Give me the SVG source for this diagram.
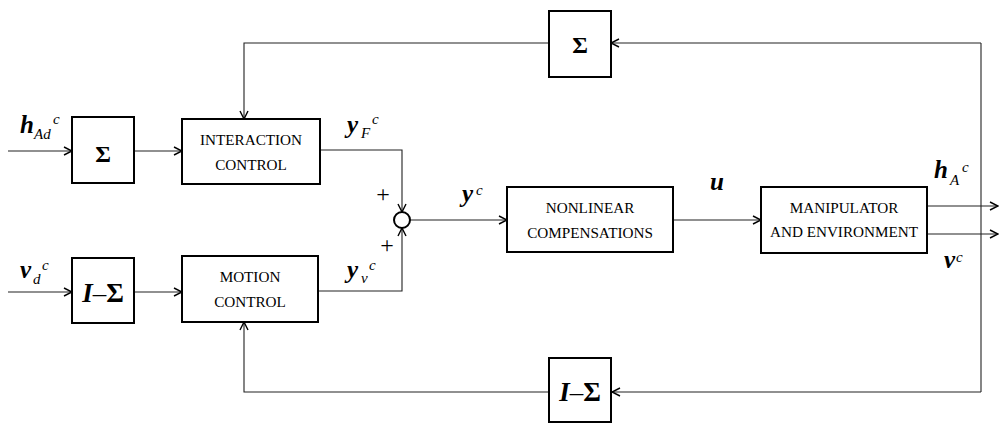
<svg xmlns="http://www.w3.org/2000/svg" width="999" height="426" viewBox="0 0 999 426">
<defs>
<marker id="ah" viewBox="0 0 10 10" refX="9" refY="5" markerWidth="10" markerHeight="10" markerUnits="userSpaceOnUse" orient="auto">
<path d="M1,1 L9,5 L1,9" fill="none" stroke="#000" stroke-width="1.4"/>
</marker>
</defs>
<style>
.box{fill:#fff;stroke:#000;stroke-width:2}
.ln{fill:none;stroke:#222;stroke-width:1.1}
.lbl{font-family:"Liberation Serif",serif;font-size:15.2px;fill:#000;text-anchor:middle}
.m{font-family:"Liberation Serif",serif;font-weight:bold;font-style:italic;fill:#000}
.s{font-family:"Liberation Serif",serif;font-style:italic;fill:#000}
.sig{font-family:"Liberation Serif",serif;font-weight:bold;font-size:24px;fill:#000;text-anchor:middle}
.pl{font-family:"Liberation Serif",serif;font-size:24px;fill:#000;text-anchor:middle}
</style>
<rect width="999" height="426" fill="#fff"/>
<g id="connectors">
<path class="ln" d="M8,151 H72" marker-end="url(#ah)"/>
<path class="ln" d="M134,151 H182" marker-end="url(#ah)"/>
<path class="ln" d="M8,292 H72" marker-end="url(#ah)"/>
<path class="ln" d="M134,292 H182" marker-end="url(#ah)"/>
<path class="ln" d="M320,150 H402 V212" marker-end="url(#ah)"/>
<path class="ln" d="M318,291 H402 V228" marker-end="url(#ah)"/>
<path class="ln" d="M410,220 H507" marker-end="url(#ah)"/>
<path class="ln" d="M673,220 H761" marker-end="url(#ah)"/>
<path class="ln" d="M927,206 H998" marker-end="url(#ah)"/>
<path class="ln" d="M927,234 H998" marker-end="url(#ah)"/>
<path class="ln" d="M981,43 V392"/>
<path class="ln" d="M981,43 H611" marker-end="url(#ah)"/>
<path class="ln" d="M549,43 H244 V119" marker-end="url(#ah)"/>
<path class="ln" d="M981,392 H612" marker-end="url(#ah)"/>
<path class="ln" d="M549,392 H244 V322" marker-end="url(#ah)"/>
</g>
<g id="sigma1">
<rect class="box" x="72" y="117" width="62" height="66"/>
<text class="sig" x="103" y="162">Σ</text>
</g>
<g id="imsigma1">
<rect class="box" x="72" y="258" width="62" height="65"/>
<text x="103" y="302" text-anchor="middle" font-family="Liberation Serif,serif" font-size="27px" font-weight="bold"><tspan font-style="italic">I</tspan><tspan font-weight="normal">–</tspan>Σ</text>
</g>
<g id="interaction">
<rect class="box" x="182" y="119" width="138" height="65"/>
<text class="lbl" x="251" y="145">INTERACTION</text>
<text class="lbl" x="251" y="170">CONTROL</text>
</g>
<g id="motion">
<rect class="box" x="182" y="256" width="136" height="66"/>
<text class="lbl" x="250" y="282">MOTION</text>
<text class="lbl" x="250" y="307">CONTROL</text>
</g>
<g id="sum">
<circle cx="402" cy="220" r="8" fill="#fff" stroke="#000" stroke-width="2"/>
<text class="pl" x="383" y="202">+</text>
<text class="pl" x="387" y="253">+</text>
</g>
<g id="nonlinear">
<rect class="box" x="507" y="187" width="166" height="65"/>
<text class="lbl" x="590" y="213">NONLINEAR</text>
<text class="lbl" x="590" y="238">COMPENSATIONS</text>
</g>
<g id="manipulator">
<rect class="box" x="761" y="187" width="166" height="66"/>
<text class="lbl" x="844" y="213">MANIPULATOR</text>
<text class="lbl" x="844" y="237">AND ENVIRONMENT</text>
</g>
<g id="sigma2">
<rect class="box" x="549" y="11" width="62" height="66"/>
<text class="sig" x="580" y="53">Σ</text>
</g>
<g id="imsigma2">
<rect class="box" x="549" y="358" width="62" height="64"/>
<text x="580" y="401" text-anchor="middle" font-family="Liberation Serif,serif" font-size="27px" font-weight="bold"><tspan font-style="italic">I</tspan><tspan font-weight="normal">–</tspan>Σ</text>
</g>
<g id="labels">
<text class="m" x="20" y="133" font-size="25">h</text><text class="s" x="34" y="139" font-size="15">Ad</text><text class="s" x="53" y="124" font-size="15">c</text>
<text class="m" x="20" y="278" font-size="25">v</text><text class="s" x="33" y="284" font-size="15">d</text><text class="s" x="42" y="270" font-size="15">c</text>
<text class="m" x="347" y="133" font-size="25">y</text><text class="s" x="361" y="138" font-size="15">F</text><text class="s" x="372" y="124" font-size="15">c</text>
<text class="m" x="347" y="278" font-size="25">y</text><text class="s" x="361" y="283" font-size="15">v</text><text class="s" x="369" y="270" font-size="15">c</text>
<text class="m" x="462" y="202" font-size="25">y</text><text class="s" x="476" y="195" font-size="15">c</text>
<text class="m" x="710" y="190" font-size="25">u</text>
<text class="m" x="934" y="178" font-size="25">h</text><text class="s" x="950" y="185" font-size="15">A</text><text class="s" x="962" y="172" font-size="15">c</text>
<text class="m" x="944" y="268" font-size="25">v</text><text class="s" x="956" y="262" font-size="15">c</text>
</g>
</svg>
